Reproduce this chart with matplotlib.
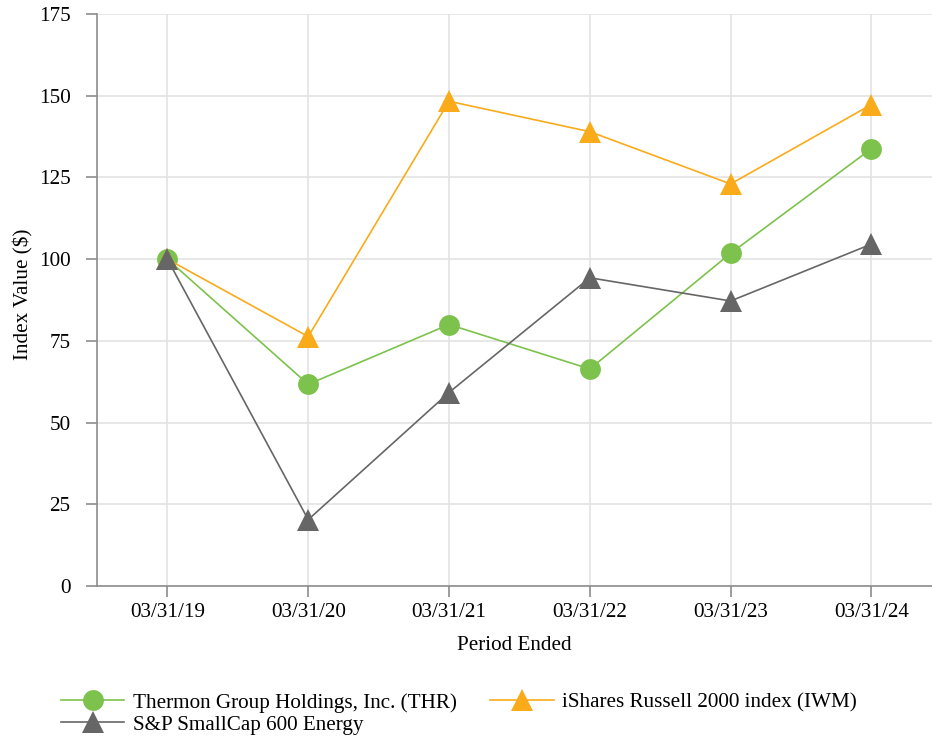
import matplotlib
matplotlib.use("Agg")
import matplotlib.pyplot as plt

periods = ["03/31/19", "03/31/20", "03/31/21", "03/31/22", "03/31/23", "03/31/24"]
thr = [100.0, 61.7, 80.0, 66.4, 101.8, 133.8]
iwm = [100.0, 76.3, 148.3, 139.0, 123.0, 147.3]
energy = [100.0, 20.3, 59.2, 94.3, 87.2, 104.6]

series_labels = ["Thermon Group Holdings, Inc. (THR)",
                 "iShares Russell 2000 index (IWM)",
                 "S&P SmallCap 600 Energy"]
yticks = [0, 25, 50, 75, 100, 125, 150, 175]

plt.rcParams['font.family'] = ['Liberation Serif', 'DejaVu Serif']

W, H = 932, 737
FS = 15.2
fig = plt.figure(figsize=(W / 100, H / 100), dpi=100)
ax = fig.add_axes([97 / W, 1 - 586 / H, (932 - 97) / W, (586 - 14) / H])

x = list(range(len(periods)))
green = "#7DC24C"
orange = "#F9AB1A"
gray = "#666666"

l1, = ax.plot(x, thr, color=green, lw=1.2, marker='o', markersize=15,
              markeredgewidth=0, label=series_labels[0], zorder=3)
l2, = ax.plot(x, iwm, color=orange, lw=1.2, marker='^', markersize=16,
              markeredgewidth=0, label=series_labels[1], zorder=3)
l3, = ax.plot(x, energy, color=gray, lw=1.2, marker='^', markersize=16,
              markeredgewidth=0, label=series_labels[2], zorder=3)

ax.set_xlim(-0.5, 5.43)
ax.set_ylim(0, 175)
ax.set_yticks(yticks)
ax.set_xticks(x)
ax.set_xticklabels(periods)
ax.grid(True, color="#E3E3E3", lw=1.2, zorder=0)
ax.set_axisbelow(True)
for s in ["top", "right"]:
    ax.spines[s].set_visible(False)
for s in ["left", "bottom"]:
    ax.spines[s].set_color("#8C8C8C")
    ax.spines[s].set_linewidth(1.2)
ax.tick_params(axis='both', colors="#8C8C8C", length=8, width=1.2,
               labelsize=FS, labelcolor="black")
ax.tick_params(axis='x', pad=4)
ax.tick_params(axis='y', pad=11)

ax.set_ylabel("Index Value ($)", fontsize=FS, labelpad=4, y=0.51)
ax.set_xlabel("Period Ended", fontsize=FS, labelpad=10)

fig.legend(handles=[l1, l3, l2],
           labels=[series_labels[0], series_labels[2], series_labels[1]],
           ncol=2, loc='upper left', bbox_to_anchor=(61 / W, 1 - 693 / H),
           frameon=False, fontsize=FS, borderpad=0, borderaxespad=0,
           handlelength=3.0, handletextpad=0.4, columnspacing=1.6,
           labelspacing=0.1)

fig.savefig("out.png", dpi=100)
